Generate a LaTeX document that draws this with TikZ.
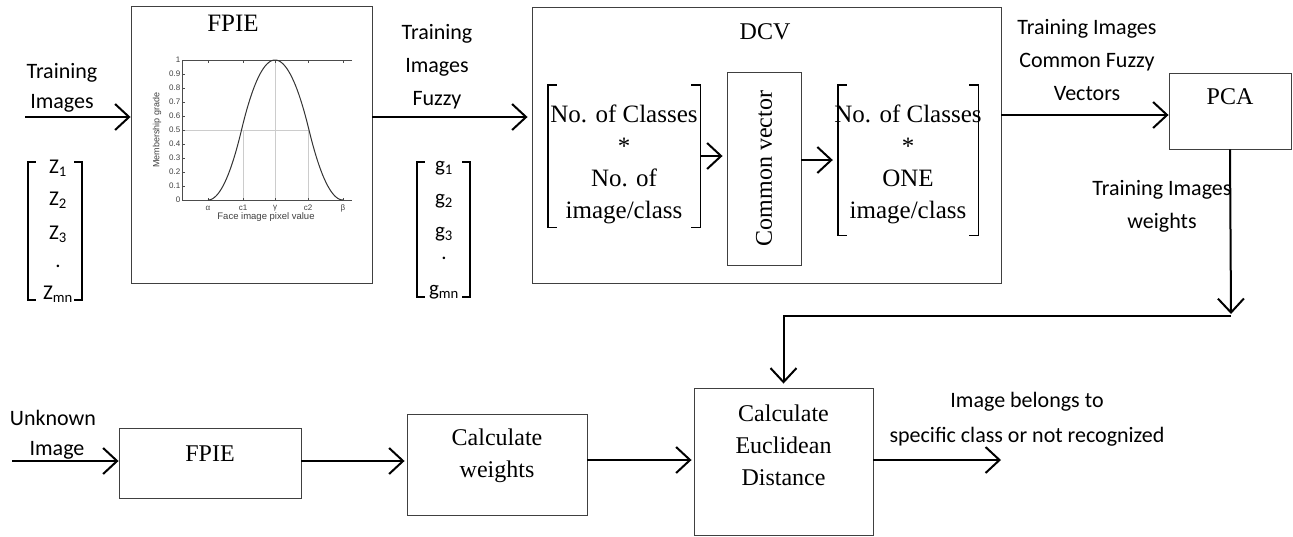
\documentclass[tikz,border=0pt]{standalone}
\usepackage{fontspec}
\setmainfont{Liberation Serif}
\newfontfamily\calfont{Carlito}
\newfontfamily\plotfont{Liberation Sans}
\usetikzlibrary{arrows.meta}
\begin{document}
\begin{tikzpicture}[x=1pt,y=-1pt,
  box/.style={draw=black!75,line width=0.9pt,inner sep=0pt},
  arr/.style={line width=2pt,-{Straight Barb[length=14pt,width=26pt]}},
  lab/.style={font=\calfont\fontsize{22}{33}\selectfont,align=center,inner sep=0pt},
  tim/.style={font=\fontsize{24}{32}\selectfont,align=center,inner sep=0pt},
  ent/.style={font=\calfont\fontsize{21}{21}\selectfont,inner sep=0pt},
  brk/.style={line width=1.6pt},
  tk/.style={font=\plotfont\fontsize{8}{8}\selectfont,inner sep=1pt,text=black!75},
  hid/.style={inner sep=0pt}
]
\useasboundingbox (0,0) rectangle (1293,536);

% ---------- top FPIE box with plot ----------
\node[box,minimum width=241pt,minimum height=277pt] (fpieA) at (251.5,144.5) {};
\node[tim,font=\fontsize{25}{30}\selectfont] (fpieAt) at (233,23) {FPIE};
% plot
\draw[black!20,line width=0.5pt] (182,130) -- (308,130);
\draw[black!20,line width=0.5pt] (243,130) -- (243,200);
\draw[black!20,line width=0.5pt] (275,60) -- (275,200);
\draw[black!20,line width=0.5pt] (308,130) -- (308,200);
\draw[black!70,line width=0.9pt] (352,60) -- (182,60) -- (182,200) -- (352,200);
\foreach \xx in {208,243,275,308,343} {
  \draw[black!70,line width=0.5pt] (\xx,60) -- (\xx,62.5);
  \draw[black!70,line width=0.5pt] (\xx,200) -- (\xx,197.5);
}
\draw[black!80,line width=1pt] plot[domain=0:1,samples=41,smooth] ({208+67*\x},{200-140*(\x<0.5 ? 2*\x*\x : 1-2*(1-\x)*(1-\x))});
\draw[black!80,line width=1pt] plot[domain=0:1,samples=41,smooth] ({275+68*\x},{200-140*(\x<0.5 ? 1-2*\x*\x : 2*(1-\x)*(1-\x))});
\foreach \i/\t in {0/0,1/0.1,2/0.2,3/0.3,4/0.4,5/0.5,6/0.6,7/0.7,8/0.8,9/0.9,10/1} {
  \draw[black!70,line width=0.5pt] (182,200-14*\i) -- (184.5,200-14*\i);
  \node[tk,anchor=east] (yt\i) at (181.5,200-14*\i) {\t};
}
\node[tk] (xa) at (208,208) {α};
\node[tk] (xc1) at (243,208) {c1};
\node[tk] (xg) at (275,208) {γ};
\node[tk] (xc2) at (308,208) {c2};
\node[tk] (xb) at (343,208) {β};
\node[tk,font=\plotfont\fontsize{9.5}{9.5}\selectfont] (xl) at (266,217) {Face image pixel value};
\node[tk,rotate=90,font=\plotfont\fontsize{9}{9}\selectfont] (yl) at (157,130) {Membership grade};

% ---------- input labels / vectors ----------
\node[lab,font=\calfont\fontsize{22}{30}\selectfont] (trA) at (62,88) {Training\\Images};
\node[hid,minimum width=54pt,minimum height=138pt] (zb) at (55,231) {};
\draw[brk] ([xshift=8pt]zb.north west) -- (zb.north west) -- (zb.south west) -- ([xshift=8pt]zb.south west);
\draw[brk] ([xshift=-8pt]zb.north east) -- (zb.north east) -- (zb.south east) -- ([xshift=-8pt]zb.south east);
\node[ent] (z1) at (58,168) {Z\textsubscript{1}};
\node[ent] (z2) at (58,200) {Z\textsubscript{2}};
\node[ent] (z3) at (58,234) {Z\textsubscript{3}};
\node[ent] (zd) at (58,266) {.};
\node[ent] (zm) at (58,294) {Z\textsubscript{mn}};

\node[lab] (trB) at (437,67) {Training\\Images\\Fuzzy};
\node[hid,minimum width=53pt,minimum height=135pt] (gb) at (443.5,229.5) {};
\draw[brk] ([xshift=8pt]gb.north west) -- (gb.north west) -- (gb.south west) -- ([xshift=8pt]gb.south west);
\draw[brk] ([xshift=-8pt]gb.north east) -- (gb.north east) -- (gb.south east) -- ([xshift=-8pt]gb.south east);
\node[ent] (g1) at (444,168) {g\textsubscript{1}};
\node[ent] (g2) at (444,201) {g\textsubscript{2}};
\node[ent] (g3) at (444,234) {g\textsubscript{3}};
\node[ent] (gd) at (444,258) {.};
\node[ent] (gm) at (444,292) {g\textsubscript{mn}};

% ---------- DCV ----------
\node[box,minimum width=469pt,minimum height=276pt] (dcv) at (766.5,145) {};
\node[tim] (dcvt) at (765,32) {DCV};
\node[hid,minimum width=152pt,minimum height=142pt] (lb) at (624,156) {};
\draw[line width=1.4pt] ([xshift=9pt]lb.north west) -- (lb.north west) -- (lb.south west) -- ([xshift=9pt]lb.south west);
\draw[line width=1.4pt] ([xshift=-9pt]lb.north east) -- (lb.north east) -- (lb.south east) -- ([xshift=-9pt]lb.south east);
\node[tim,font=\fontsize{25}{32}\selectfont] (lbt) at (624,164) {No. of Classes\\*\\No. of\\image/class};
\node[box,minimum width=74pt,minimum height=193pt] (cv) at (764,168.5) {};
\node[tim,rotate=90] (cvt) at (764,168.5) {Common vector};
\node[hid,minimum width=140pt,minimum height=150pt] (rb) at (908,160) {};
\draw[line width=1.4pt] ([xshift=9pt]rb.north west) -- (rb.north west) -- (rb.south west) -- ([xshift=9pt]rb.south west);
\draw[line width=1.4pt] ([xshift=-9pt]rb.north east) -- (rb.north east) -- (rb.south east) -- ([xshift=-9pt]rb.south east);
\node[tim,font=\fontsize{25}{32}\selectfont] (rbt) at (908,164) {No. of Classes\\*\\ONE\\image/class};

% ---------- PCA ----------
\node[lab] (trC) at (1087,60) {Training Images\\Common Fuzzy\\Vectors};
\node[box,minimum width=122pt,minimum height=76pt] (pca) at (1230,111) {};
\node[tim] (pcat) at (1230,97) {PCA};
\node[lab] (trD) at (1162,206) {Training Images\\weights};

% ---------- bottom row ----------
\node[lab] (unk) at (53,418) {Unknown};
\node[lab] (unkI) at (57,450) {Image};
\node[box,minimum width=182pt,minimum height=70pt] (fpieB) at (210,463) {};
\node[tim] (fpieBt) at (210,454) {FPIE};
\node[box,minimum width=180pt,minimum height=101pt] (cw) at (497,464.5) {};
\node[tim] (cwt) at (497,456) {Calculate\\weights};
\node[box,minimum width=179pt,minimum height=147pt] (ed) at (783.5,461.5) {};
\node[tim] (edt) at (783.5,445) {Calculate\\Euclidean\\Distance};
\node[lab,font=\calfont\fontsize{22}{35}\selectfont] (res) at (1027,419) {Image belongs to\\specific class or not recognized};

% ---------- connectors ----------
\coordinate (inA) at (25,117);
\draw[arr] (inA) -- (inA -| fpieA.west);
\draw[arr] (inA -| fpieA.east) -- ([xshift=-4pt]inA -| dcv.west);
\draw[arr] (lb.east) -- ([xshift=-4pt]lb.east -| cv.west);
\draw[arr] (rb.west -| cv.east) -- ([xshift=-5pt]rb.west);
\draw[arr] ([yshift=30pt]dcv.east) coordinate (oD) -- (oD -| pca.west);
\coordinate (jn) at (1231,316);
\draw[arr] (pca.south) -- ([yshift=2pt]jn);
\draw[arr] (jn) -| ([yshift=4pt]ed.north);
\coordinate (inB) at (12,461);
\draw[arr] (inB) -- (inB -| fpieB.west);
\draw[arr] (inB -| fpieB.east) -- ([xshift=-2pt]inB -| cw.west);
\coordinate (mB) at (587,460);
\draw[arr] (mB) -- ([xshift=-2pt]mB -| ed.west);
\coordinate (outB) at (1001,460);
\draw[arr] (mB -| ed.east) -- (outB);
\end{tikzpicture}
\end{document}
